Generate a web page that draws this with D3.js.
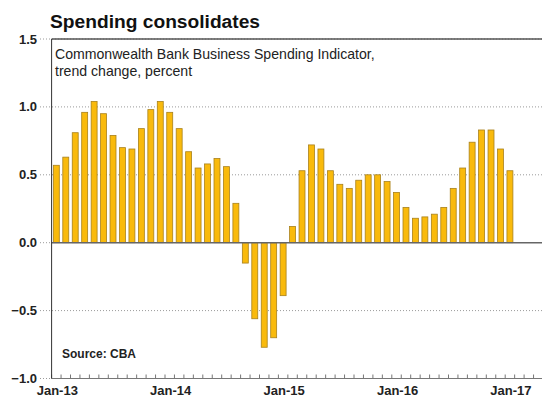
<!DOCTYPE html>
<html>
<head>
<meta charset="utf-8">
<script src="https://cdn.jsdelivr.net/npm/d3@7"></script>
<style>
  html, body { margin: 0; padding: 0; background: #fff; overflow: hidden; }
  svg { display: block; font-family: "Liberation Sans", Arial, sans-serif; }
</style>
</head>
<body>
<svg id="chart" width="542" height="398"></svg>
<script>
// ---- data ----
const title = "Spending consolidates";
const subtitleLines = ["Commonwealth Bank Business Spending Indicator,", "trend change, percent"];
const sourceText = "Source: CBA";
const startMonth = "2013-01";
const monthCount = 52; // Jan-13 .. Apr-17 axis slots
const values = [
  0.57, 0.63, 0.81, 0.96, 1.04, 0.95, 0.79, 0.70, 0.69, 0.84, 0.98, 1.04,
  0.96, 0.84, 0.67, 0.55, 0.58, 0.62, 0.56, 0.29, -0.15, -0.56, -0.77, -0.70,
  -0.39, 0.12, 0.53, 0.72, 0.69, 0.53, 0.43, 0.40, 0.46, 0.50, 0.50, 0.45,
  0.37, 0.26, 0.18, 0.19, 0.21, 0.26, 0.40, 0.55, 0.74, 0.83, 0.83, 0.69,
  0.53
];
const yTicks = [1.5, 1.0, 0.5, 0.0, -0.5, -1.0];
const xTickLabels = ["Jan-13", "Jan-14", "Jan-15", "Jan-16", "Jan-17"];

(function () {
// ---- build ----
const parse = d3.timeParse("%Y-%m");
const fmt = d3.timeFormat("%b-%y");
const start = parse(startMonth);
const months = d3.timeMonth.range(start, d3.timeMonth.offset(start, monthCount)).map(fmt);
const data = values.map((v, i) => ({ m: months[i], v }));

const svg = d3.select("#chart");
const pl = 51.6, pr = 543, pt = 39, pb = 378.5;

const x = d3.scaleBand().domain(months).range([pl, pr]).paddingInner(0.37).paddingOuter(0.185);
const y = d3.scaleLinear().domain([-1, 1.5]).range([pb, pt]);

// gridlines (dotted), including tick extension to the left of the axis
svg.append("g").selectAll("line").data(yTicks.filter(t => t !== 0 && t !== -1)).join("line")
  .attr("x1", 40).attr("x2", pr).attr("y1", d => y(d)).attr("y2", d => y(d))
  .attr("stroke", "#9a9a9a").attr("stroke-width", 1).attr("stroke-dasharray", "1,2");
svg.append("g").selectAll("line").data([0, -1]).join("line")
  .attr("x1", 40).attr("x2", pl).attr("y1", d => y(d)).attr("y2", d => y(d))
  .attr("stroke", "#9a9a9a").attr("stroke-width", 1).attr("stroke-dasharray", "1,2");

// top border
svg.append("line").attr("x1", pl).attr("x2", pr).attr("y1", y(1.5)).attr("y2", y(1.5))
  .attr("stroke", "#555").attr("stroke-width", 1.5);

// bars
svg.append("g").selectAll("rect").data(data).join("rect")
  .attr("x", d => x(d.m))
  .attr("width", x.bandwidth())
  .attr("y", d => y(Math.max(0, d.v)))
  .attr("height", d => Math.abs(y(d.v) - y(0)))
  .attr("fill", "#F9BA0C")
  .attr("stroke", "#A8811C")
  .attr("stroke-width", 0.8);

// zero line
svg.append("line").attr("x1", pl).attr("x2", pr).attr("y1", y(0)).attr("y2", y(0))
  .attr("stroke", "#666").attr("stroke-width", 1.5);

// bottom axis with inward ticks at month boundaries
const step = x.step();
const xAxisG = svg.append("g");
xAxisG.append("line").attr("x1", pl).attr("x2", pr).attr("y1", pb).attr("y2", pb)
  .attr("stroke", "#777").attr("stroke-width", 1);
xAxisG.selectAll("line.tick").data(d3.range(monthCount + 1)).join("line")
  .attr("class", "tick")
  .attr("x1", i => pl + i * step).attr("x2", i => pl + i * step)
  .attr("y1", pb).attr("y2", pb - 4)
  .attr("stroke", "#777").attr("stroke-width", 1);
xAxisG.selectAll("text").data(xTickLabels).join("text")
  .attr("x", d => x(d) + x.bandwidth() / 2 + 1)
  .attr("y", 395)
  .attr("text-anchor", "middle")
  .attr("font-size", 13).attr("font-weight", "bold").attr("fill", "#222")
  .text(d => d);

// left axis
svg.append("line").attr("x1", pl).attr("x2", pl).attr("y1", pt).attr("y2", pb)
  .attr("stroke", "#333").attr("stroke-width", 1);
svg.append("g").selectAll("text").data(yTicks).join("text")
  .attr("x", 37).attr("y", d => y(d)).attr("dy", "0.35em")
  .attr("text-anchor", "end")
  .attr("font-size", 13).attr("font-weight", "bold").attr("fill", "#222")
  .text(d => d3.format(".1f")(d));

// title, subtitle, source
svg.append("text").attr("x", 50).attr("y", 28)
  .attr("font-size", 19.2).attr("font-weight", "bold").attr("fill", "#111").text(title);
svg.append("g").selectAll("text").data(subtitleLines).join("text")
  .attr("x", 55).attr("y", (d, i) => 58.5 + i * 17)
  .attr("font-size", 14.1).attr("fill", "#222").text(d => d);
svg.append("text").attr("x", 62).attr("y", 358)
  .attr("font-size", 12).attr("font-weight", "bold").attr("fill", "#222").text(sourceText);
})();
</script>
</body>
</html>
